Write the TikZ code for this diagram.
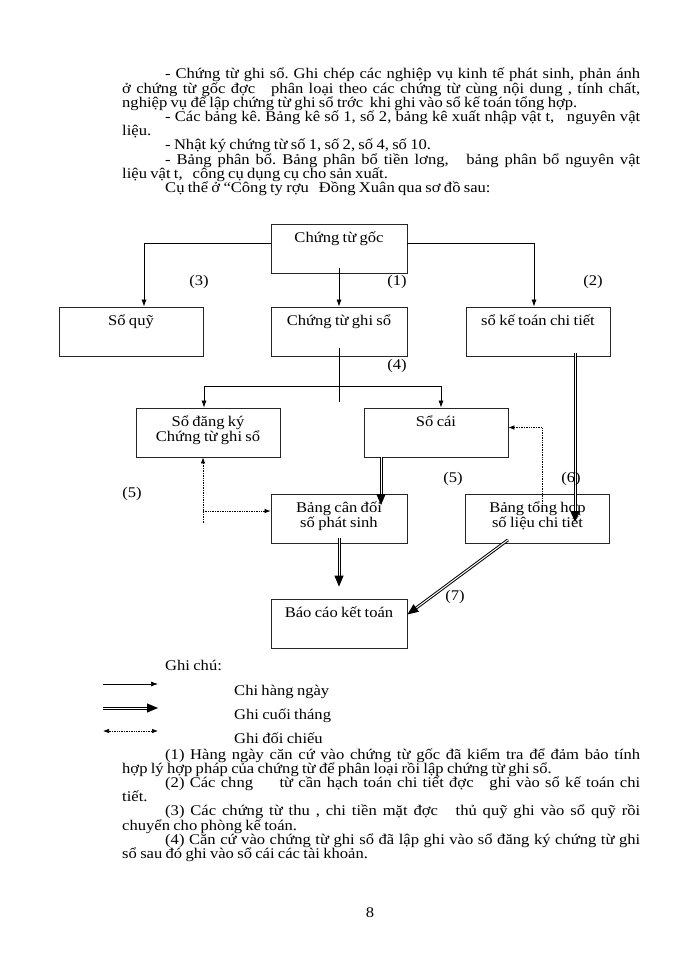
\documentclass[tikz,border=0pt]{standalone}
\usepackage{fontspec}
\setmainfont{Liberation Serif}[FakeStretch=1.12,WordSpace=0.8]
\usetikzlibrary{arrows.meta,calc}
\newcommand\bodyfont{\fontsize{14.8pt}{14.2pt}\selectfont}
\newcommand\twol[2]{\begin{tabular}[t]{@{}c@{}}#1\\#2\end{tabular}}
\frenchspacing
\tikzset{
 bx/.style={draw=black!85,line width=0.8pt,minimum width=144pt,minimum height=49pt,inner sep=0pt},
 nbx/.style={bx,minimum width=136pt},
 lb/.style={anchor=base,yshift=-18.5pt,inner sep=0pt},
 arr/.style={line width=0.7pt,-{Latex[length=7pt,width=5pt]}},
 thk/.style={double,double distance=1pt,line width=1pt,-{Triangle[length=11pt,width=9pt]}},
 dotarr/.style={densely dotted,line width=0.7pt,-{Latex[length=6pt,width=4.5pt]}},
 para/.style={anchor=base west,inner sep=0pt}
}
\begin{document}
\begin{tikzpicture}[x=1pt,y=-1pt,font=\bodyfont]
\fill[white](0,0)rectangle(700,960);
\useasboundingbox(0,0)rectangle(700,960);
\node[para](intro)at(122,79){\parbox[t]{518pt}{\setlength\parindent{43pt}\lineskiplimit=-20pt\tolerance=10000\hbadness=10000
- Chứng từ ghi sổ. Ghi chép các nghiệp vụ kinh tế phát sinh, phản ánh\linebreak
ở chứng từ gốc đợc~~~phân loại theo các chứng từ cùng nội dung , tính chất,\linebreak
nghiệp vụ để lập chứng từ ghi sổ trớc~~khi ghi vào sổ kế toán tổng hợp.\par
- Các bảng kê. Bảng kê số 1, số 2, bảng kê xuất nhập vật t,~~~nguyên vật\linebreak
liệu.\par
- Nhật ký chứng từ số 1, số 2, số 4, số 10.\par
- Bảng phân bổ. Bảng phân bổ tiền lơng,~~~bảng phân bổ nguyên vật\linebreak
liệu vật t,~~~công cụ dụng cụ cho sản xuất.\par
Cụ thể ở “Công ty rợu~~~Đồng Xuân qua sơ đồ sau:\par}};
\node[nbx,label={[lb]north:Chứng từ gốc}](goc)at(339,249){};
\node[bx,label={[lb]north:Sổ quỹ}](quy)at(131,331.5){};
\node[nbx,label={[lb]north:Chứng từ ghi sổ}](ghiso)at(339,331.5){};
\node[bx,label={[lb]north:sổ kế toán chi tiết}](ktct)at(538,331.5){};
\node[bx,label={[lb]north:\twol{Sổ đăng ký}{Chứng từ ghi sổ}}](dangky)at(208,432.5){};
\node[bx,label={[lb]north:Sổ cái}](cai)at(436,432.5){};
\node[nbx,label={[lb]north:\twol{Bảng cân đối}{số phát sinh}}](cdoi)at(339,519){};
\node[bx,label={[lb]north:\twol{Bảng tổng hợp}{số liệu chi tiết}}](thop)at(537.5,519){};
\node[nbx,label={[lb]north:Báo cáo kết toán}](baocao)at(339,623.5){};
\coordinate(j4)at(339,386);
\coordinate(d5)at(203,523);
\draw[arr]([yshift=6pt]goc.west)-|([xshift=13pt]quy.north);
\draw[arr]([yshift=6pt]goc.east)-|([xshift=-4pt]ktct.north);
\draw[arr]([yshift=-19pt]goc.center)--(ghiso.north);
\draw[line width=0.7pt]([yshift=-16.5pt]ghiso.center)--([yshift=-16pt]j4);
\draw[arr](j4)-|([xshift=-4pt]dangky.north);
\draw[arr](j4)-|([xshift=5pt]cai.north);
\draw[thk]([xshift=-55pt]cai.south)--([xshift=42pt,yshift=-11pt]cdoi.north);
\draw[thk]([xshift=37pt,yshift=3pt]ktct.south)--([xshift=37.5pt,yshift=-28pt]thop.north);
\draw[thk]([yshift=6pt]cdoi.south)--([yshift=12pt]baocao.north);
\draw[thk]([xshift=-29.5pt,yshift=4pt]thop.south)--([yshift=9pt]baocao.east);
\draw[dotarr]([xshift=4.5pt,yshift=-13pt]thop.north)|-([yshift=5pt]cai.east);
\draw[dotarr](d5)--([xshift=-5pt]dangky.south);
\draw[dotarr]([yshift=8pt]cdoi.west-|d5)--([yshift=8pt]cdoi.west);
\node(n3)at(199,282){(3)};
\node(n1)at(397,282){(1)};
\node(n2)at(593,282){(2)};
\node(n4)at(397,366){(4)};
\node(n5a)at(132,494){(5)};
\node(n5b)at(453,479){(5)};
\node(n6)at(571,479){(6)};
\node(n7)at(455,597){(7)};
\node[para](ghichu)at(165,670){Ghi chú:};
\draw[arr](103,684)--(158,684);
\draw[thk](103,708)--(158,708);
\draw[dotarr,{Latex[length=6pt,width=4.5pt]}-{Latex[length=6pt,width=4.5pt]}](103,731)--(158,731);
\node[para](hangngay)at(234,695){Chi hàng ngày};
\node[para](cuoithang)at(234,719){Ghi cuối tháng};
\node[para](doichieu)at(234,743){Ghi đối chiếu};
\node[para](notes)at(122,759){\parbox[t]{518pt}{\setlength\parindent{43pt}\lineskiplimit=-20pt\tolerance=10000\hbadness=10000
(1) Hàng ngày căn cứ vào chứng từ gốc đã kiểm tra để đảm bảo tính\linebreak
hợp lý hợp pháp của chứng từ để phân loại rồi lập chứng từ ghi sổ.\par
(2) Các chng~~~~~từ cần hạch toán chi tiết đợc~~~ghi vào sổ kế toán chi\linebreak
tiết.\par
(3) Các chứng từ thu , chi tiền mặt đợc~~~thủ quỹ ghi vào sổ quỹ rồi\linebreak
chuyển cho phòng kế toán.\par
(4) Căn cứ vào chứng từ ghi sổ đã lập ghi vào sổ đăng ký chứng từ ghi\linebreak
sổ sau đó ghi vào sổ cái các tài khoản.\par}};
\node[anchor=base](pg)at(370,917){8};
\end{tikzpicture}
\end{document}
